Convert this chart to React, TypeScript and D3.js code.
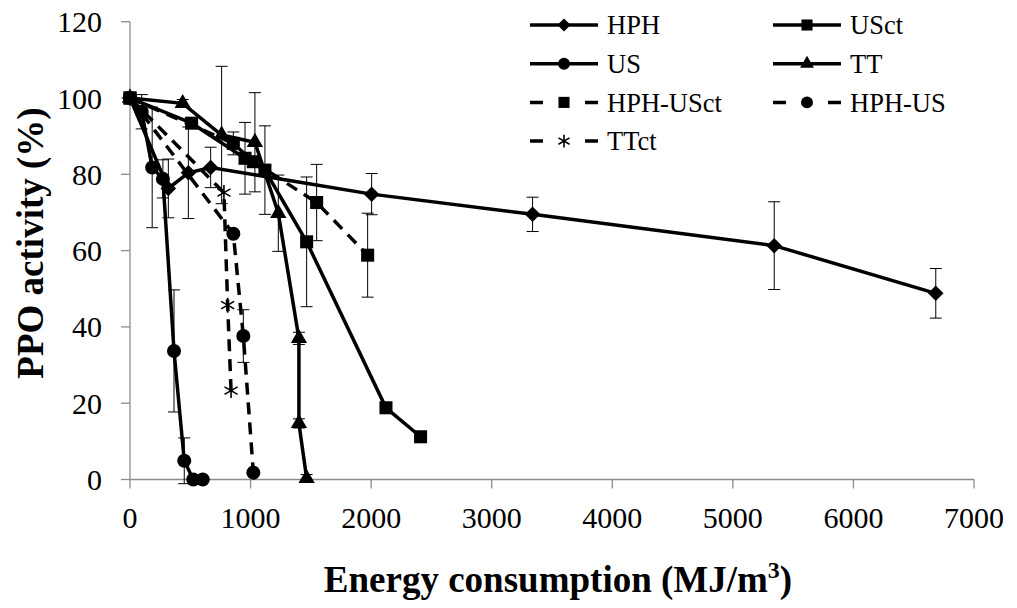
import React, { useRef, useEffect } from 'react';
import * as d3 from 'd3';

// energy consumption (MJ/m3) and PPO activity (%) per treatment
const hphX = [0, 318, 484, 669, 2004, 3339, 5343, 6683];
const hphY = [100, 76.3, 80.4, 81.8, 74.8, 69.5, 61.3, 48.8];
const hphErr = [0, 7.7, 12, 5.3, 5.4, 4.5, 11.5, 6.5];

const usctX = [0, 511, 954, 1119, 1465, 2123, 2410];
const usctY = [100, 93.4, 84.2, 81.1, 62.3, 18.8, 11.2];
const usctErr = [0, 0, 9.4, 11.6, 17, 0, 0];

const usX = [0, 97, 184, 273, 365, 450, 525, 603];
const usY = [100, 96.4, 81.8, 78.8, 33.7, 4.9, 0, 0];
const usErr = [0, 4.5, 15.8, 5, 16, 6, 0, 0];

const ttX = [0, 437, 760, 1036, 1230, 1401, 1401, 1465];
const ttY = [100, 98.6, 90.3, 88.4, 69.8, 37, 14.7, 0.3];
const ttErr = [0, 1, 18, 13, 10, 1.6, 1.2, 1];

const hphUsctX = [0, 857, 1023, 1548, 1971];
const hphUsctY = [100, 88.1, 83.3, 72.6, 58.8];
const hphUsctErr = [0, 3, 0, 10, 11];

const hphUsX = [0, 857, 940, 1023];
const hphUsY = [100, 64.4, 37.6, 1.8];
const hphUsErr = [0, 0, 6.9, 0];

const ttctX = [0, 779, 810, 838];
const ttctY = [100, 75.2, 45.7, 23.3];

const energyTicks = [0, 1000, 2000, 3000, 4000, 5000, 6000, 7000];
const activityTicks = [0, 20, 40, 60, 80, 100, 120];

const series = [
  { name: 'HPH', x: hphX, y: hphY, err: hphErr, dashed: false, marker: 'diamond' },
  { name: 'USct', x: usctX, y: usctY, err: usctErr, dashed: false, marker: 'square' },
  { name: 'US', x: usX, y: usY, err: usErr, dashed: false, marker: 'circle' },
  { name: 'TT', x: ttX, y: ttY, err: ttErr, dashed: false, marker: 'triangle' },
  { name: 'HPH-USct', x: hphUsctX, y: hphUsctY, err: hphUsctErr, dashed: true, marker: 'square' },
  { name: 'HPH-US', x: hphUsX, y: hphUsY, err: hphUsErr, dashed: true, marker: 'circle' },
  { name: 'TTct', x: ttctX, y: ttctY, err: ttctX.map(() => 0), dashed: true, marker: 'star' },
];

const FONT = "'Liberation Serif', 'DejaVu Serif', 'Times New Roman', serif";

function addMarker(g, type, cx, cy, k = 1) {
  if (type === 'star') {
    const r = 7.5 * k, d = r * 0.87;
    g.append('path')
      .attr('d', `M${cx},${cy - r}L${cx},${cy + r}M${cx - d},${cy - r / 2}L${cx + d},${cy + r / 2}M${cx - d},${cy + r / 2}L${cx + d},${cy - r / 2}`)
      .attr('stroke', '#000').attr('stroke-width', 1.6).attr('fill', 'none');
    return;
  }
  let sym, size, rot = 0;
  if (type === 'diamond') { sym = d3.symbolSquare; size = 120; rot = 45; }
  else if (type === 'square') { sym = d3.symbolSquare; size = 170; }
  else if (type === 'circle') { sym = d3.symbolCircle; size = 155; }
  else { sym = d3.symbolTriangle; size = 115; }
  g.append('path')
    .attr('d', d3.symbol().type(sym).size(size * k * k)())
    .attr('transform', `translate(${cx},${cy}) rotate(${rot})`)
    .attr('fill', '#000');
}

const App = () => {
  const ref = useRef(null);

  useEffect(() => {
    const svg = d3.select(ref.current);
    svg.selectAll('*').remove();

    const x = d3.scaleLinear().domain([0, 7000]).range([130, 974]);
    const y = d3.scaleLinear().domain([0, 120]).range([479.5, 21.7]);

    // axes
    const axisColor = '#8c8c8c';
    svg.append('line').attr('x1', x(0)).attr('x2', x(0)).attr('y1', y(120)).attr('y2', y(0))
      .attr('stroke', axisColor).attr('stroke-width', 1.3);
    svg.append('line').attr('x1', x(0)).attr('x2', x(7000)).attr('y1', y(0)).attr('y2', y(0))
      .attr('stroke', axisColor).attr('stroke-width', 1.3);

    activityTicks.forEach(t => {
      svg.append('line').attr('x1', x(0) - 9).attr('x2', x(0)).attr('y1', y(t)).attr('y2', y(t))
        .attr('stroke', axisColor).attr('stroke-width', 1.3);
      svg.append('text').attr('x', 102).attr('y', y(t)).attr('dy', '0.35em')
        .attr('text-anchor', 'end').attr('font-family', FONT).attr('font-size', 30)
        .text(t);
    });
    energyTicks.forEach(t => {
      svg.append('line').attr('x1', x(t)).attr('x2', x(t)).attr('y1', y(0)).attr('y2', y(0) + 9)
        .attr('stroke', axisColor).attr('stroke-width', 1.3);
      svg.append('text').attr('x', x(t)).attr('y', 528)
        .attr('text-anchor', 'middle').attr('font-family', FONT).attr('font-size', 30)
        .text(t);
    });

    // axis titles
    const xt = svg.append('text').attr('x', 558).attr('y', 592).attr('text-anchor', 'middle')
      .attr('font-family', FONT).attr('font-size', 37).attr('font-weight', 'bold');
    xt.append('tspan').text('Energy consumption (MJ/m');
    xt.append('tspan').attr('dy', -14).attr('font-size', 24).text('3');
    xt.append('tspan').attr('dy', 14).text(')');

    svg.append('text').attr('transform', 'translate(43,243) rotate(-90)').attr('text-anchor', 'middle')
      .attr('font-family', FONT).attr('font-size', 37).attr('font-weight', 'bold')
      .text('PPO activity (%)');

    const line = d3.line().x(d => x(d[0])).y(d => y(d[1]));

    // error bars
    const eg = svg.append('g');
    series.forEach(s => {
      s.x.forEach((xv, i) => {
        const e = s.err[i];
        if (!e) return;
        const px = x(xv);
        eg.append('line').attr('x1', px).attr('x2', px).attr('y1', y(s.y[i] + e)).attr('y2', y(s.y[i] - e))
          .attr('stroke', '#000').attr('stroke-width', 1);
        [s.y[i] + e, s.y[i] - e].forEach(v => {
          eg.append('line').attr('x1', px - 6).attr('x2', px + 6).attr('y1', y(v)).attr('y2', y(v))
            .attr('stroke', '#000').attr('stroke-width', 1);
        });
      });
    });

    // lines and markers
    series.forEach(s => {
      const pts = s.x.map((xv, i) => [xv, s.y[i]]);
      svg.append('path').attr('d', line(pts)).attr('fill', 'none').attr('stroke', '#000')
        .attr('stroke-width', 3.5).attr('stroke-dasharray', s.dashed ? '12,8' : null);
      const mg = svg.append('g');
      pts.forEach(p => addMarker(mg, s.marker, x(p[0]), y(p[1])));
    });

    // legend
    const lg = svg.append('g');
    series.forEach((s, i) => {
      const col = i % 2, row = Math.floor(i / 2);
      const x0 = col === 0 ? 530 : 773;
      const ly = 25 + row * 38.7;
      lg.append('line').attr('x1', x0).attr('x2', x0 + 68).attr('y1', ly).attr('y2', ly)
        .attr('stroke', '#000').attr('stroke-width', 3.5)
        .attr('stroke-dasharray', s.dashed ? '13,21,0,21,13' : null);
      addMarker(lg, s.marker, x0 + 34, ly, 0.85);
      lg.append('text').attr('x', x0 + 77).attr('y', ly).attr('dy', '0.35em')
        .attr('font-family', FONT).attr('font-size', 26.5).text(s.name);
    });
  }, []);

  return (
    <svg ref={ref} width={1017} height={608}
      style={{ position: 'absolute', left: 0, top: 0, background: '#fff' }} />
  );
};

export default App;
